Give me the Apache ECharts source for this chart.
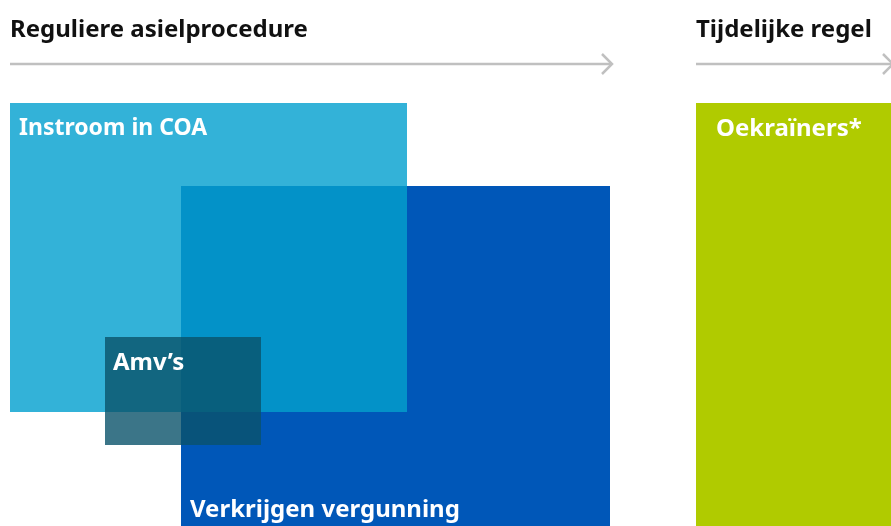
<!DOCTYPE html>
<html><head><meta charset="utf-8">
<script src="https://cdn.jsdelivr.net/npm/echarts@6/dist/echarts.min.js"></script>
<style>html,body{margin:0;padding:0;background:#fff}#c{width:891px;height:526px}</style>
</head><body><div id="c"></div>
<script>
// Stages (header arrows), in diagram units (0..891 horizontally, 0..526 vertically)
const stageNames = ['Reguliere asielprocedure', 'Tijdelijke regel'];
const stageStart = [10, 696];
const stageEnd = [612, 893];
const stageLevel = [64, 64];

// Boxes
const boxNames = ['Instroom in COA', 'Verkrijgen vergunning', 'Amv\u2019s', 'Oekra\u00efners*'];
const boxLeft = [10, 181, 105, 696];
const boxRight = [407, 610, 261, 891];
const boxTop = [103, 186, 337, 103];
const boxBottom = [412, 526, 445, 526];
const boxLabelPos = ['top', 'bottom', 'top', 'top'];

// styles
const boxColors = ['#33b2d8', '#0057b8', 'rgba(10,82,106,0.8)', '#b0cb00'];
const overlapColor = '#0392c8';
const labelSizes = [23, 24, 24, 24];
const labelPadX = [9, 9, 8, 20];
const FONT = '"Noto Sans", sans-serif';

// build drawing order: COA, Verkrijgen, their overlap, Amv's, Oekraïners
const items = [];
function push(i, color) {
  items.push([boxLeft[i], boxTop[i], boxRight[i], boxBottom[i], '', color, '', 0, 0]);
}
push(0, boxColors[0]);
push(1, boxColors[1]);
items.push([Math.max(boxLeft[0], boxLeft[1]), Math.max(boxTop[0], boxTop[1]),
            Math.min(boxRight[0], boxRight[1]), Math.min(boxBottom[0], boxBottom[1]), '', overlapColor, '', 0, 0]);
push(2, boxColors[2]);
push(3, boxColors[3]);
// labels last
for (let i = 0; i < boxNames.length; i++) {
  items.push([boxLeft[i], boxTop[i], boxRight[i], boxBottom[i], boxNames[i], 'none', boxLabelPos[i], labelSizes[i], labelPadX[i]]);
}

const stageItems = stageNames.map((n, i) => [stageStart[i], stageEnd[i], stageLevel[i], n]);

const chart = echarts.init(document.getElementById('c'), null, {renderer: 'canvas'});
chart.setOption({
  animation: false,
  grid: {left: 0, right: 0, top: 0, bottom: 0},
  xAxis: {type: 'value', min: 0, max: 891, show: false},
  yAxis: {type: 'value', min: 0, max: 526, inverse: true, show: false},
  series: [
    {
      type: 'custom',
      clip: false,
      data: items,
      renderItem: function (params, api) {
        const d = items[params.dataIndex];
        const p0 = api.coord([d[0], d[1]]);
        const p1 = api.coord([d[2], d[3]]);
        if (d[5] !== 'none') {
          return {
            type: 'rect',
            shape: {x: p0[0], y: p0[1], width: p1[0] - p0[0], height: p1[1] - p0[1]},
            style: {fill: d[5]}
          };
        }
        const top = d[6] === 'top';
        return {
          type: 'text',
          style: {
            text: d[4],
            x: p0[0] + d[8],
            y: top ? p0[1] + 14 : p1[1] - 4,
            verticalAlign: top ? 'top' : 'bottom',
            fill: '#ffffff',
            fontSize: d[7],
            fontWeight: 'bold',
            fontFamily: FONT
          }
        };
      }
    },
    {
      type: 'custom',
      clip: false,
      data: stageItems,
      renderItem: function (params, api) {
        const s = stageItems[params.dataIndex];
        const a = api.coord([s[0], s[2]]);
        const b = api.coord([s[1], s[2]]);
        const c = '#c0c0c0';
        return {
          type: 'group',
          children: [
            {type: 'line', shape: {x1: a[0], y1: a[1], x2: b[0] - 1, y2: b[1]},
             style: {stroke: c, lineWidth: 2.5}},
            {type: 'polyline', shape: {points: [[b[0] - 10, b[1] - 10], [b[0], b[1]], [b[0] - 10, b[1] + 10]]},
             style: {stroke: c, lineWidth: 2.5, fill: null}},
            {type: 'text', style: {text: s[3], x: a[0], y: a[1] - 22, verticalAlign: 'bottom',
              fill: '#111111', fontSize: 24, fontWeight: 'bold', fontFamily: FONT}}
          ]
        };
      }
    }
  ]
});
</script></body></html>
